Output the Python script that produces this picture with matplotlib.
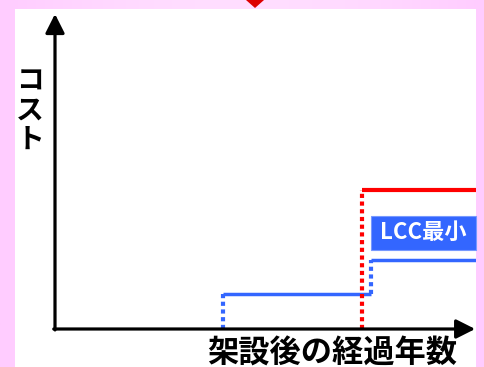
import matplotlib
matplotlib.use("Agg")
import matplotlib.pyplot as plt
import numpy as np
from matplotlib.patches import Rectangle, Polygon

plt.rcParams['font.family'] = ['Noto Sans CJK JP', 'DejaVu Sans']

# 経過年数（任意単位）とコスト水準
blue_years = [40, 75]
blue_costs = [11, 22]
red_years = [73]
red_costs = [44]
x_max = 100
y_max = 100

label_text = "LCC最小"
x_label = "架設後の経過年数"
y_label = "コスト"

BLUE = '#3366FF'
RED = '#FF0000'

W, H = 484, 367
fig = plt.figure(figsize=(W / 100, H / 100), dpi=100)

# 背景（ピンクのグラデーション + 白いパネル）
bg = fig.add_axes([0, 0, 1, 1])
grad = np.linspace(0, 1, 256)
cols = np.zeros((1, 256, 3))
cols[0, :, 0] = 1.0
cols[0, :, 1] = 0.80 + 0.07 * np.sin(np.pi * grad)
cols[0, :, 2] = 1.0
bg.imshow(cols, aspect='auto', extent=[0, 1, 0, 1])
bg.add_patch(Rectangle((15 / W, 0), (476 - 15) / W, (H - 9) / H,
                       facecolor='white', edgecolor='none'))
bg.add_patch(Polygon([(246 / W, 1), (264 / W, 1), (255 / W, 1 - 8 / H)],
                     closed=True, facecolor='#DD0000', edgecolor='none'))
bg.set_xlim(0, 1)
bg.set_ylim(0, 1)
bg.axis('off')

# グラフ本体
left, right, top, bottom = 55, 476, 14, 329
ax = fig.add_axes([left / W, (H - bottom) / H, (right - left) / W, (bottom - top) / H])
ax.set_xlim(0, x_max)
ax.set_ylim(0, y_max)
ax.axis('off')
ax.patch.set_alpha(0)

dot = dict(linestyle=(0, (1, 0.85)), dash_capstyle='butt', lw=3.0)

# 青（LCC最小）
prev = 0
for i, (yr, c) in enumerate(zip(blue_years, blue_costs)):
    ax.plot([yr, yr], [prev, c], color=BLUE, **dot)
    nxt = blue_years[i + 1] if i + 1 < len(blue_years) else x_max
    ax.plot([yr, nxt], [c, c], color=BLUE, lw=2.5, solid_capstyle='butt')
    prev = c

# 赤
for yr, c in zip(red_years, red_costs):
    ax.plot([yr, yr], [0, c], color=RED, **dot)
    ax.plot([yr, x_max], [c, c], color=RED, lw=3.0, solid_capstyle='butt')

# ラベルボックス
bx0 = blue_years[-1]
by0 = blue_costs[-1] + 3.2
by1 = red_costs[0] - 8
ax.add_patch(Rectangle((bx0, by0), x_max - bx0, by1 - by0,
                       facecolor=BLUE, edgecolor='#7799FF', lw=0.8, clip_on=False))
ax.text((bx0 + x_max) / 2, (by0 + by1) / 2, label_text, color='white',
        fontsize=16, fontweight='bold', ha='center', va='center')

# 軸の矢印
arrow = dict(arrowstyle='-|>,head_length=1.15,head_width=0.58',
             mutation_scale=10, lw=2.3, color='black', shrinkA=0, shrinkB=0)
ax.annotate('', xy=(0, 1), xytext=(0, -0.003), xycoords='axes fraction',
            arrowprops=arrow, annotation_clip=False)
ax.annotate('', xy=(0.998, 0), xytext=(-0.003, 0), xycoords='axes fraction',
            arrowprops=arrow, annotation_clip=False)

fig.text(30 / W, 1 - 111 / H, "\n".join(y_label), fontsize=20, fontweight='bold',
         ha='center', va='center', linespacing=1.05)
fig.text(332 / W, 1 - 354 / H, x_label, fontsize=22.5, fontweight='bold',
         ha='center', va='center')

fig.savefig('out.png', dpi=100)
